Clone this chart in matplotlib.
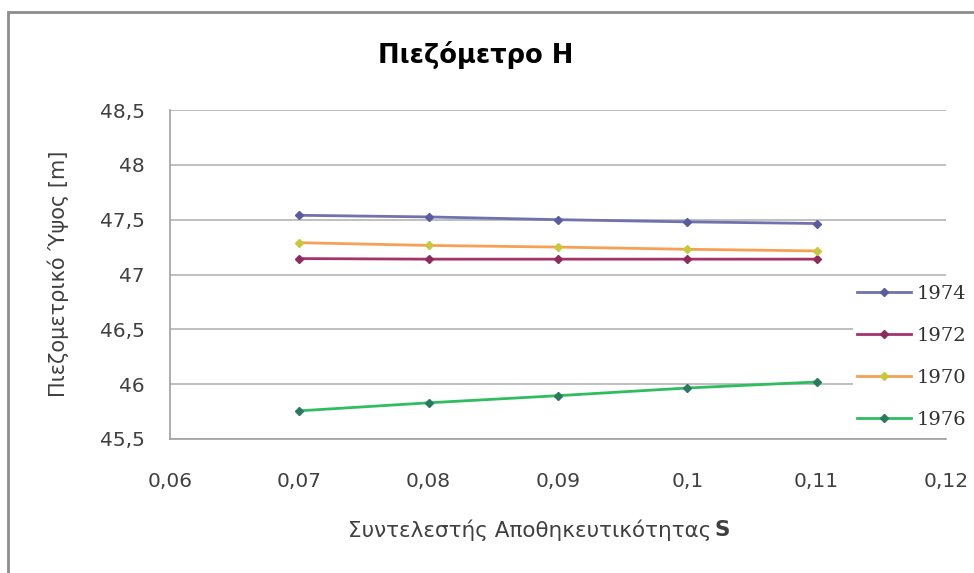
import matplotlib
matplotlib.use("Agg")
import matplotlib.pyplot as plt
from matplotlib.patches import Rectangle
from matplotlib.ticker import FixedLocator, FuncFormatter

s_values = [0.07, 0.08, 0.09, 0.10, 0.11]
series_names = ["1974", "1972", "1970", "1976"]
h_1974 = [47.54, 47.525, 47.50, 47.48, 47.465]
h_1972 = [47.145, 47.14, 47.14, 47.14, 47.14]
h_1970 = [47.29, 47.265, 47.25, 47.23, 47.215]
h_1976 = [45.757, 45.83, 45.895, 45.965, 46.02]
x_ticks = [0.06, 0.07, 0.08, 0.09, 0.10, 0.11, 0.12]
y_ticks = [45.5, 46.0, 46.5, 47.0, 47.5, 48.0, 48.5]

title = "Πιεζόμετρο Η"
ylabel = "Πιεζομετρικό Ύψος [m]"
xlabel_main = "Συντελεστής Αποθηκευτικότητας"
xlabel_bold = "S"

W, H = 974, 573
fig = plt.figure(figsize=(W / 100, H / 100), dpi=100)
plt.rcParams['font.family'] = ['DejaVu Sans']

# chart frame
fig.patches.append(Rectangle((8 / W, -0.05), 1.2, 1 - 12 / H + 0.05, transform=fig.transFigure,
                             fill=False, edgecolor='#8c8c8c', linewidth=2))

ax = fig.add_axes([170 / W, 1 - 439 / H, (946 - 170) / W, (439 - 110) / H])

styles = [
    (h_1974, '#7072b0', '#5a5ca0'),
    (h_1972, '#a3336b', '#8e2a5c'),
    (h_1970, '#f7a054', '#c8c83c'),
    (h_1976, '#2fbd5f', '#2a7a60'),
]
for name, (vals, lc, mc) in zip(series_names, styles):
    ax.plot(s_values, vals, color=lc, linewidth=2, marker='D', markersize=4.5,
            markerfacecolor=mc, markeredgecolor=mc, label=name)

ax.set_xlim(0.06, 0.12)
ax.set_ylim(45.5, 48.5)
ax.xaxis.set_major_locator(FixedLocator(x_ticks))
ax.yaxis.set_major_locator(FixedLocator(y_ticks))
ax.xaxis.set_major_formatter(FuncFormatter(lambda v, p: ('%g' % round(v, 2)).replace('.', ',')))
ax.yaxis.set_major_formatter(FuncFormatter(lambda v, p: ('%g' % v).replace('.', ',')))
ax.grid(axis='y', color='#b4b4b4', linewidth=1.2)
ax.set_axisbelow(True)
for sp in ['top', 'right']:
    ax.spines[sp].set_visible(False)
for sp in ['left', 'bottom']:
    ax.spines[sp].set_color('#a0a0a0')
    ax.spines[sp].set_linewidth(1.2)
ax.tick_params(axis='both', length=0, labelsize=14.5, colors='#404040')
ax.tick_params(axis='y', pad=18)
ax.tick_params(axis='x', pad=24)

fig.text(476 / W, 1 - 55 / H, title, ha='center', va='center', fontsize=18.5, fontweight='bold', color='black')
fig.text(58 / W, 1 - 274 / H, ylabel, ha='center', va='center', rotation=90, fontsize=15, color='#404040')
fig.text(711 / W, 1 - 530 / H, xlabel_main, ha='right', va='center', fontsize=15.5, color='#404040')
fig.text(714 / W, 1 - 530 / H, xlabel_bold, ha='left', va='center', fontsize=15.5, fontweight='bold', color='#404040')

leg = fig.legend(loc='center left', bbox_to_anchor=(853 / W, 1 - 357 / H), frameon=True,
                 prop={'family': 'DejaVu Serif', 'size': 14}, handlelength=2.78,
                 labelspacing=1.24, handletextpad=0.3, borderpad=0.2, borderaxespad=0)
leg.get_frame().set_edgecolor('none')
leg.get_frame().set_facecolor('white')
leg.get_frame().set_alpha(1)
for t in leg.get_texts():
    t.set_color('#303030')

fig.savefig("out.png", dpi=100, facecolor='white')
